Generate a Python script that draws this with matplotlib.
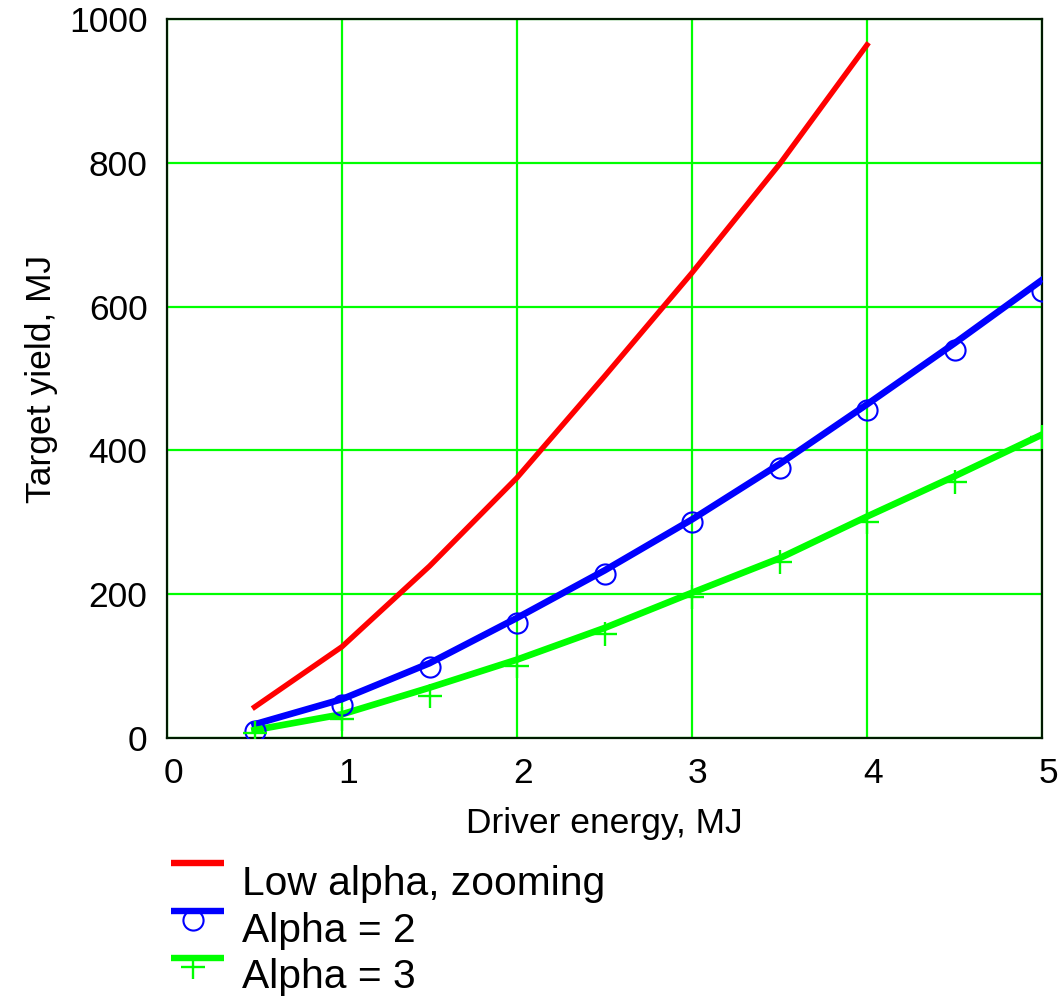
import matplotlib
matplotlib.use("Agg")
import matplotlib.pyplot as plt
import matplotlib.transforms as mtransforms
from matplotlib.lines import Line2D

plt.rcParams['font.family'] = ['Liberation Sans', 'DejaVu Sans']

# Driver energy (MJ) and target yield (MJ)
energy = [0.5, 1.0, 1.5, 2.0, 2.5, 3.0, 3.5, 4.0, 4.5, 5.0]

low_alpha_energy = [0.5, 1.0, 1.5, 2.0, 2.5, 3.0, 3.5, 4.0]
low_alpha_yield = [43, 127, 239, 362, 503, 647, 798, 964]

alpha2_curve = [19, 54, 104, 167, 233, 304, 381, 464, 549, 637]
alpha2_points = [10, 46, 99, 160, 228, 300, 375, 456, 540, 622]

alpha3_curve = [11, 33, 70, 109, 153, 202, 250, 308, 364, 422]
alpha3_points = [7, 26, 58, 100, 144, 196, 245, 300, 356, 419]

legend_labels = ["Low alpha, zooming", "Alpha = 2", "Alpha = 3"]

RED = "#ff0000"
BLUE = "#0000ff"
GREEN = "#00ff00"

W, H = 1060, 999
fig = plt.figure(figsize=(W / 100, H / 100), dpi=100)
ax = fig.add_axes([167 / W, 1 - 738 / H, (1042 - 167) / W, (738 - 19) / H])

ax.plot(low_alpha_energy, low_alpha_yield, color=RED, lw=3.9, zorder=3)
ax.plot(energy, alpha2_curve, color=BLUE, lw=4.8, zorder=3)
ax.plot(energy, alpha2_points, ls="none", marker="o", ms=14.5, mfc="none",
        mec=BLUE, mew=1.5, zorder=4)
ax.plot(energy, alpha3_curve, color=GREEN, lw=4.8, zorder=3)
ax.plot(energy, alpha3_points, ls="none", marker="+", ms=17, mec=GREEN,
        mew=1.7, zorder=4)

ax.set_xlim(0, 5)
ax.set_ylim(0, 1000)
ax.set_xticks([0, 1, 2, 3, 4, 5])
ax.set_yticks([0, 200, 400, 600, 800, 1000])
ax.grid(True, color=GREEN, lw=1.6, zorder=1)
ax.set_axisbelow(True)
ax.tick_params(length=0, labelsize=25.5, pad=14)
for s in ax.spines.values():
    s.set_color("#001a00")
    s.set_linewidth(1.6)

# nudge x tick labels slightly right of their grid lines
offset = mtransforms.ScaledTranslation(6 / 100, 0, fig.dpi_scale_trans)
for lbl in ax.get_xticklabels():
    lbl.set_transform(lbl.get_transform() + offset)

ax.set_xlabel("Driver energy, MJ", fontsize=25.5, labelpad=12)
ax.set_ylabel("Target yield, MJ", fontsize=25.5, labelpad=8)

# legend below the axes, drawn in figure pixel space
def fx(px):
    return px / W

def fy(py):
    return 1 - py / H

rows = [(863, 895, RED, None), (911, 942, BLUE, "o"), (958, 988, GREEN, "+")]
for (ly, ty, col, mk), text in zip(rows, legend_labels):
    fig.add_artist(Line2D([fx(171), fx(224)], [fy(ly), fy(ly)], color=col,
                          lw=4.6, transform=fig.transFigure,
                          solid_capstyle="butt"))
    if mk == "o":
        fig.add_artist(Line2D([fx(193)], [fy(ly + 9)], ls="none", marker="o",
                              ms=14.5, mfc="none", mec=col, mew=1.5,
                              transform=fig.transFigure))
    elif mk == "+":
        fig.add_artist(Line2D([fx(193)], [fy(ly + 9)], ls="none", marker="+",
                              ms=17, mec=col, mew=1.7,
                              transform=fig.transFigure))
    fig.text(fx(242), fy(ty), text, fontsize=29.3, ha="left", va="baseline")

fig.savefig("out.png", dpi=100)
